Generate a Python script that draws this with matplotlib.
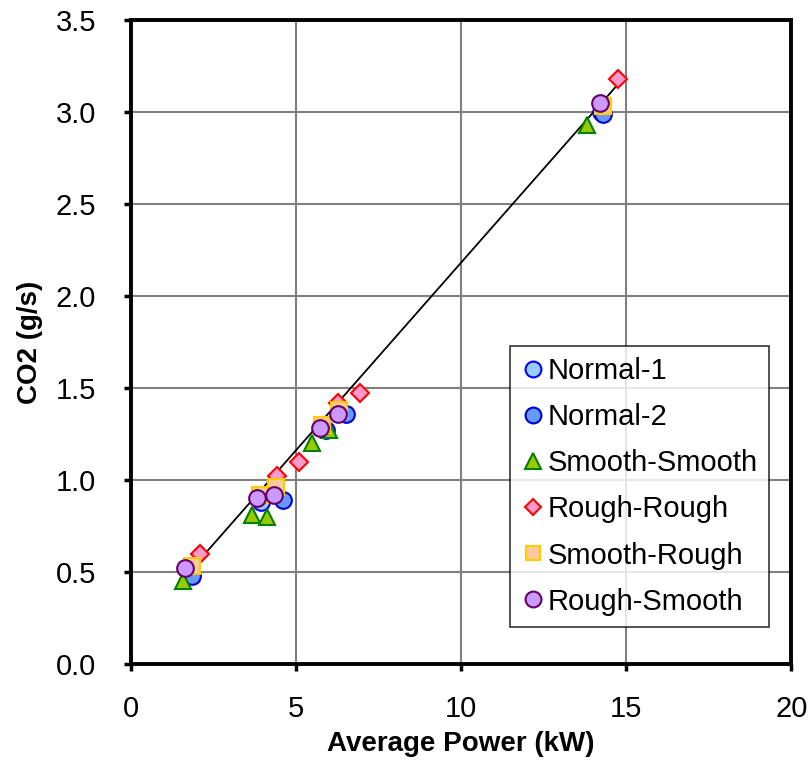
import numpy as np
import matplotlib
matplotlib.use("Agg")
import matplotlib.pyplot as plt

plt.rcParams['font.family'] = ['Liberation Sans', 'DejaVu Sans']

# data
n1_x = [1.80, 3.95, 5.90, 14.25]
n1_y = [0.50, 0.88, 1.27, 3.00]
n2_x = [1.85, 4.60, 6.50, 14.30]
n2_y = [0.48, 0.89, 1.36, 2.99]
ss_x = [1.57, 3.67, 4.12, 5.48, 6.00, 13.80]
ss_y = [0.45, 0.81, 0.80, 1.20, 1.27, 2.93]
rr_x = [2.08, 4.42, 5.09, 6.27, 6.93, 14.76]
rr_y = [0.60, 1.02, 1.10, 1.42, 1.47, 3.18]
sr_x = [1.84, 3.90, 4.40, 5.78, 6.30, 14.30]
sr_y = [0.53, 0.92, 0.96, 1.30, 1.38, 3.03]
rs_x = [1.63, 3.83, 4.34, 5.72, 6.27, 14.20]
rs_y = [0.52, 0.90, 0.92, 1.28, 1.36, 3.05]

# trendline end points
trend_x = [1.9, 14.8]
trend_y = [0.53, 3.16]

fig = plt.figure(figsize=(8.09, 7.65), dpi=100)
ax = fig.add_axes([0.162, 0.132, 0.816, 0.842])

ax.plot(trend_x, trend_y, color='black', lw=1.3, zorder=2)

ms = 12
ax.plot(n1_x, n1_y, 'o', ms=ms, mfc='#99CCFF', mec='#0000FF', mew=1.5, label='Normal-1', zorder=3)
ax.plot(n2_x, n2_y, 'o', ms=ms, mfc='#6699FF', mec='#0000CC', mew=1.5, label='Normal-2', zorder=3)
ax.plot(ss_x, ss_y, '^', ms=ms, mfc='#99CC00', mec='#008000', mew=1.5, label='Smooth-Smooth', zorder=3)
ax.plot(rr_x, rr_y, 'D', ms=9, mfc='#FF99CC', mec='#FF0000', mew=1.5, label='Rough-Rough', zorder=3)
ax.plot(sr_x, sr_y, 's', ms=11, mfc='#FFCC99', mec='#FFCC00', mew=1.5, label='Smooth-Rough', zorder=3)
ax.plot(rs_x, rs_y, 'o', ms=ms, mfc='#CC99FF', mec='#660066', mew=1.5, label='Rough-Smooth', zorder=4)

ax.set_xlim(0, 20)
ax.set_ylim(0, 3.5)
ax.set_xticks([0, 5, 10, 15, 20])
ax.set_yticks(np.arange(0, 3.51, 0.5))
ax.set_yticklabels([f'{v:.1f}' for v in np.arange(0, 3.51, 0.5)])
ax.grid(True, color='#808080', lw=1.5, zorder=0)
ax.set_axisbelow(True)
for s in ax.spines.values():
    s.set_linewidth(2.8)
ax.tick_params(direction='out', length=5, width=2.5, labelsize=21)
ax.tick_params(axis='y', pad=20)
ax.tick_params(axis='x', pad=17)

ax.set_xlabel('Average Power (kW)', fontsize=20, fontweight='bold', labelpad=6)
ax.set_ylabel('CO2 (g/s)', fontsize=20, fontweight='bold', labelpad=9)

leg = ax.legend(loc='lower right', bbox_to_anchor=(0.967, 0.057), fontsize=21, frameon=True,
                fancybox=False, edgecolor='black', borderpad=0.4, labelspacing=0.62,
                handletextpad=0.1, handlelength=0.8, borderaxespad=0, markerscale=0.95)
leg.get_frame().set_linewidth(1.2)

fig.savefig('out.png', dpi=100)
